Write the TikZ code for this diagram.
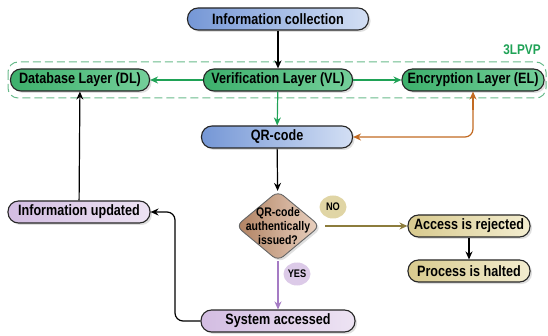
\documentclass[tikz,border=0pt]{standalone}
\usepackage{fontspec}
\setmainfont{Liberation Sans}[FakeStretch=0.84]
\usetikzlibrary{arrows.meta,shapes.geometric,shadows}

\definecolor{bluedk}{HTML}{7597D6}
\definecolor{bluelt}{HTML}{D3DFF4}
\definecolor{grndk}{HTML}{3DB06C}
\definecolor{grnlt}{HTML}{74CF9A}
\definecolor{grnln}{HTML}{1FA256}
\definecolor{purdk}{HTML}{D3BDE2}
\definecolor{purlt}{HTML}{EDE3F3}
\definecolor{purln}{HTML}{A57BC4}
\definecolor{begdk}{HTML}{D8CA8E}
\definecolor{beglt}{HTML}{F3EDD0}
\definecolor{begln}{HTML}{8C7C3C}
\definecolor{brwdk}{HTML}{B08060}
\definecolor{brwlt}{HTML}{EAD3C2}
\definecolor{orgln}{HTML}{C26A22}

\begin{document}
\begin{tikzpicture}[x=1pt,y=-1pt,
  box/.style={draw=black!85,line width=1.1pt,rounded corners=10.5pt,minimum height=22pt,
    font=\fontsize{15}{17}\selectfont\bfseries,inner xsep=4pt,inner ysep=2pt,
    drop shadow={opacity=0.25,shadow xshift=2pt,shadow yshift=-2pt}},
  bluebox/.style={box,left color=bluedk,right color=bluelt},
  grnbox/.style={box,left color=grndk,right color=grnlt},
  purbox/.style={box,left color=purdk,right color=purlt},
  begbox/.style={box,left color=begdk,right color=beglt},
  decbox/.style={draw=black!60,line width=0.9pt,diamond,rounded corners=7pt,inner sep=0pt,
    minimum width=84pt,minimum height=70pt,left color=brwdk,right color=brwlt,
    drop shadow={opacity=0.25,shadow xshift=2pt,shadow yshift=-2pt}},
  tag/.style={ellipse,inner sep=0pt,minimum height=23pt,minimum width=27pt,
    font=\fontsize{11}{13}\selectfont\bfseries},
  arr/.style={line width=1.2pt,-{Stealth[length=8pt,width=7pt]}}]
\useasboundingbox (0,0) rectangle (548,336);

% 3LPVP frame
\draw[grnlt!90!black,dash pattern=on 8pt off 4pt,line width=1pt,rounded corners=10pt]
  (8,62) rectangle (546,98);
\node[text=grnln,font=\fontsize{14}{16}\selectfont\bfseries] (frame) at (522,50) {3LPVP};

% nodes
\node[bluebox,minimum width=181pt] (collect) at (278,19) {Information collection};
\node[grnbox,minimum width=139pt] (dl) at (80,80) {Database Layer (DL)};
\node[grnbox,minimum width=149pt] (vl) at (278,80) {Verification Layer (VL)};
\node[grnbox,minimum width=142pt] (el) at (473,80) {Encryption Layer (EL)};
\node[bluebox,minimum width=151pt] (qr) at (277,137) {QR-code};
\node[decbox] (dec) at (278,226) {};
\node[align=center,font=\fontsize{12.5}{14}\selectfont\bfseries] (dectxt) at (278,226)
  {QR-code\\authentically\\issued?};
\node[begbox,minimum width=122pt] (reject) at (469,226) {Access is rejected};
\node[begbox,minimum width=122pt] (halt) at (469,271) {Process is halted};
\node[purbox,minimum width=154pt] (sys) at (278,321) {System accessed};
\node[purbox,minimum width=142pt] (upd) at (79,212) {Information updated};
\node[tag,fill=begdk!80] (no) at (333,207) {NO};
\node[tag,fill=purdk!80] (yes) at (297,274) {YES};

% connectors
\draw[arr] (collect) -- (vl);
\draw[arr,grnln] (vl) -- (dl);
\draw[arr,grnln] (vl) -- (el);
\draw[arr,grnln] (vl) -- (qr);
\draw[arr,orgln,rounded corners=8pt] (el.south) ++(0,18) |- (qr.east);
\draw[arr,orgln] (el.south) ++(0,18) -- (el.south);
\draw[arr] (qr) -- (dec);
\draw[arr,begln] (dec.east) ++(5,0) -- (reject.west);
\draw[arr] (reject) -- (halt);
\draw[arr,purln] (dec) -- (sys);
\draw[arr,rounded corners=8pt] (sys.west) -| (175,212) -- (upd.east);
\draw[arr] (upd) -- (dl);
\end{tikzpicture}
\end{document}
